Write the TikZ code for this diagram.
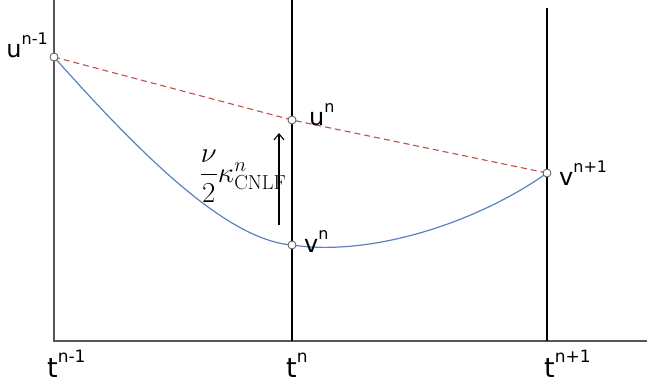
\documentclass[tikz,border=0pt]{standalone}
\usepackage{fix-cm}
\usepackage{amsmath}
\usepackage[no-math]{fontspec}
\setmainfont{DejaVu Sans}
\usetikzlibrary{positioning, arrows.meta}

\definecolor{curveblue}{RGB}{91,130,190}
\definecolor{dashred}{RGB}{192,78,74}
\definecolor{axisgray}{RGB}{85,85,85}

% label with raised index, e.g. u^{n-1}
\newcommand{\ptlbl}[2]{\fontsize{24}{24}\selectfont #1\raisebox{0.52em}{\fontsize{16}{16}\selectfont #2}}
\newcommand{\timelbl}[2]{\fontsize{27}{27}\selectfont #1\raisebox{0.52em}{\fontsize{17}{17}\selectfont #2}}

\tikzset{
  ptdot/.style={circle, draw=axisgray, fill=white, line width=0.8pt, inner sep=0pt, minimum size=8pt},
  axisline/.style={draw=axisgray, line width=1.3pt},
  timeline/.style={draw=black, line width=1.4pt},
  solcurve/.style={draw=curveblue, line width=1.2pt},
  predline/.style={draw=dashred, line width=1.1pt, dash pattern=on 6pt off 4pt},
  lbl/.style={inner sep=0pt, anchor=base west}
}

\begin{document}
\begin{tikzpicture}[x=1pt, y=-1pt, >={Straight Barb[length=6pt, width=10pt]}]
  \useasboundingbox (0,0) rectangle (647,388);

  % points of the scheme
  \coordinate (Un1) at (54,57);
  \coordinate (Un) at (292,120);
  \coordinate (Vn) at (292,245);
  \coordinate (Vn1) at (547,173);

  % axes and time levels
  \draw[axisline] (54,0) -- (54,341) -- (647,341);
  \draw[timeline] (292,0) -- (292,341);
  \draw[timeline] (547,8) -- (547,341);

  \draw[predline] (Un1) -- (Un) -- (Vn1);
  \draw[solcurve] (Un1) .. controls (150,165) and (230,240) .. (Vn)
                        .. controls (372,257) and (478,222) .. (Vn1);

  \node[ptdot] (un1) at (Un1) {};
  \node[ptdot] (un) at (Un) {};
  \node[ptdot] (vn) at (Vn) {};
  \node[ptdot] (vn1) at (Vn1) {};

  % correction arrow
  \coordinate (arrbot) at (279,225);
  \coordinate (arrtop) at (279,133);
  \draw[->, line width=1.1pt] (arrbot) -- (arrtop);
  \node (kappa) at (243,176) {\fontsize{29}{34}\selectfont $\dfrac{\nu}{2}\kappa^{n}_{\mathrm{CNLF}}$};

  \node[lbl, anchor=base east] (lun1) at (48,57) {\ptlbl{u}{n-1}};
  \node[lbl] (lun) at (309,125) {\ptlbl{u}{n}};
  \node[lbl] (lvn) at (304,252) {\ptlbl{v}{n}};
  \node[lbl] (lvn1) at (559,185) {\ptlbl{v}{n+1}};

  \node[lbl] (ltn1) at (47,377) {\timelbl{t}{n-1}};
  \node[lbl] (ltn) at (286,377) {\timelbl{t}{n}};
  \node[lbl] (ltn2) at (544,377) {\timelbl{t}{n+1}};
\end{tikzpicture}
\end{document}
